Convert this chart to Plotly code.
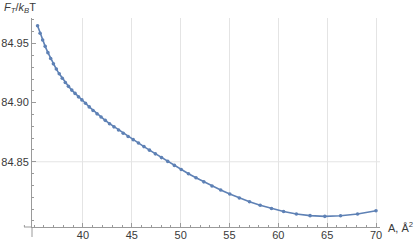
import plotly.graph_objects as go

# Data
area = [70.00, 68.11, 66.37, 64.76, 63.25, 61.85, 60.54, 59.30, 58.14, 57.05,
        56.01, 55.03, 54.10, 53.21, 52.37, 51.57, 50.80, 50.06, 49.36, 48.68,
        48.04, 47.41, 46.81, 46.24, 45.68, 45.14, 44.62, 44.12, 43.64, 43.17,
        42.72, 42.28, 41.85, 41.44, 41.03, 40.64, 40.26, 39.89, 39.54, 39.19,
        38.85, 38.51, 38.19, 37.88, 37.57, 37.27, 36.97, 36.69, 36.41, 36.13,
        35.87, 35.61, 35.35]
free_energy = [84.8085, 84.8058, 84.8043, 84.8038, 84.8044, 84.8058, 84.8079, 84.8104, 84.8132, 84.8161,
               84.8193, 84.8227, 84.8261, 84.8295, 84.8330, 84.8364, 84.8398, 84.8434, 84.8469, 84.8503,
               84.8535, 84.8567, 84.8598, 84.8628, 84.8658, 84.8687, 84.8714, 84.8741, 84.8768, 84.8795,
               84.8822, 84.8850, 84.8878, 84.8905, 84.8934, 84.8964, 84.8995, 84.9023, 84.9049, 84.9078,
               84.9106, 84.9138, 84.9171, 84.9206, 84.9244, 84.9284, 84.9328, 84.9374, 84.9423, 84.9476,
               84.9530, 84.9587, 84.9650]

x_ticks = [40, 45, 50, 55, 60, 65, 70]
y_ticks = [84.85, 84.90, 84.95]
y_grid = [84.85]

x_range = [34.78, 70.41]
y_range = [84.7948, 84.9716]

blue = "#5E81B5"
axis_col = "#9a9a9a"
grid_col = "#e4e4e4"
font = dict(family="Liberation Sans, Arial, sans-serif", size=11, color="#3a3a3a")

fig = go.Figure()
fig.add_trace(go.Scatter(
    x=area, y=free_energy, mode="lines+markers",
    line=dict(color=blue, width=1.6),
    marker=dict(color=blue, size=3.6),
    showlegend=False, hoverinfo="skip"))

for g in y_grid:
    fig.add_shape(type="line", xref="paper", yref="y", x0=0, x1=1, y0=g, y1=g,
                  line=dict(color=grid_col, width=1), layer="below")

W, H = 415, 240
ml, mr, mt, mb = 32, 35, 18, 13
pw = W - ml - mr
ph = H - mt - mb
# axis overhangs (Mathematica-style axes extending past the origin)
fig.add_shape(type="line", xref="paper", yref="paper", x0=-8 / pw, x1=0, y0=0, y1=0,
              line=dict(color=axis_col, width=1))
fig.add_shape(type="line", xref="paper", yref="paper", x0=0, x1=0, y0=-10 / ph, y1=0,
              line=dict(color=axis_col, width=1))
x34 = (34 - x_range[0]) / (x_range[1] - x_range[0])
fig.add_shape(type="line", xref="paper", yref="paper", x0=x34, x1=x34, y0=0, y1=2 / ph,
              line=dict(color=axis_col, width=1))

fig.update_layout(
    width=W, height=H,
    margin=dict(l=ml, r=mr, t=mt, b=mb, autoexpand=False),
    paper_bgcolor="white", plot_bgcolor="white",
    font=font,
    xaxis=dict(range=x_range, tickvals=x_ticks, ticks="inside", ticklen=4, automargin=False,
               ticklabelstandoff=-2,
               tickcolor=axis_col, showline=True, linecolor=axis_col, linewidth=1,
               showgrid=True, gridcolor=grid_col, gridwidth=1, zeroline=False,
               minor=dict(dtick=1, tick0=40, ticks="inside", ticklen=2, tickcolor=axis_col, showgrid=False),
               tickfont=font),
    yaxis=dict(range=y_range, tickvals=y_ticks, ticktext=["84.85", "84.90", "84.95"],
               ticks="inside", ticklen=4, automargin=False,
               tickcolor=axis_col, showline=True, linecolor=axis_col, linewidth=1,
               showgrid=False, zeroline=False,
               minor=dict(dtick=0.01, tick0=84.85, ticks="inside", ticklen=2, tickcolor=axis_col, showgrid=False),
               tickfont=font),
)

fig.add_annotation(xref="paper", yref="paper", x=-ml / pw + 2 / pw, y=1 + 10 / ph,
                   xanchor="left", yanchor="middle", showarrow=False,
                   text="<i>F</i><sub><i>T</i></sub>/<i>k</i><sub><i>B</i></sub>T", font=font)
fig.add_annotation(xref="paper", yref="paper", x=(W - ml) / pw, y=0,
                   xanchor="right", yanchor="middle", showarrow=False,
                   text="A, Å<sup>2</sup>", font=font)

fig.write_html("out.html", config={"displayModeBar": False},
               post_script="document.body.style.margin='0';document.body.style.overflow='hidden';")
